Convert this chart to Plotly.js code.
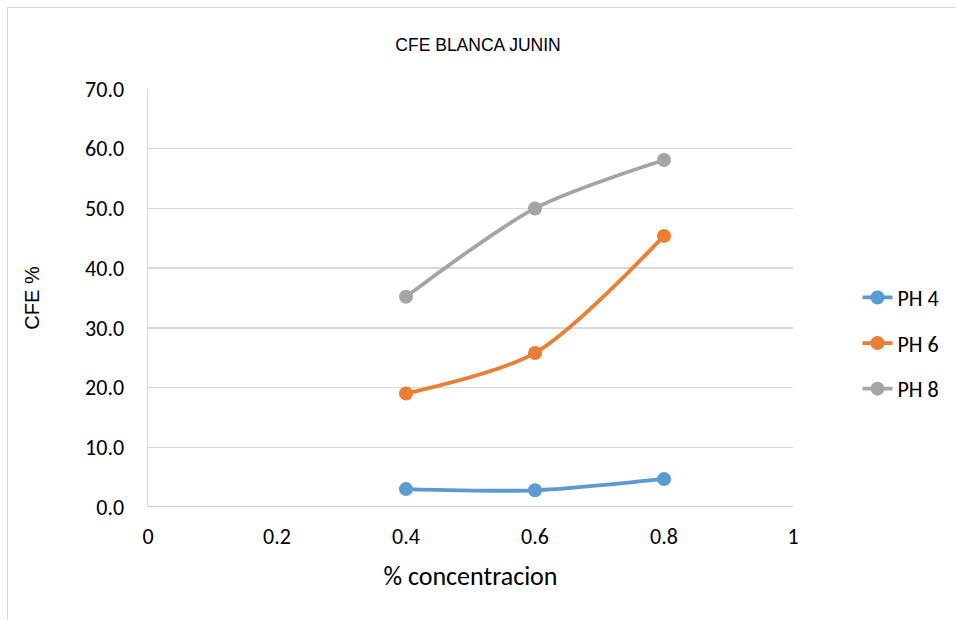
<!DOCTYPE html>
<html>
<head>
<meta charset="utf-8">
<script src="https://cdn.plot.ly/plotly-3.0.1.min.js"></script>
<style>
html,body{margin:0;padding:0;background:#fff;overflow:hidden;width:956px;height:620px;}
#frame{position:absolute;left:7px;top:7px;width:1000px;height:700px;border:1px solid #d9d9d9;box-sizing:border-box;}
#chart{position:absolute;left:0;top:0;width:956px;height:620px;}
</style>
</head>
<body>
<div id="frame"></div>
<div id="chart"></div>
<script>
const concentration = [0.4, 0.6, 0.8];
const ph4 = [3.0, 2.8, 4.7];
const ph6 = [19.0, 25.8, 45.4];
const ph8 = [35.2, 50.0, 58.1];
const seriesNames = ["PH 4", "PH 6", "PH 8"];
const colors = ["#5b9bd5", "#ed7d31", "#a5a5a5"];
const titleFont = "'Liberation Sans Narrow', 'Arial Narrow', 'Liberation Sans', Arial, sans-serif";
const bodyFont = "Calibri, Carlito, Lato, 'Open Sans', sans-serif";
const ytitleFont = "'Liberation Sans', Arial, sans-serif";

const series = [ph4, ph6, ph8];
const traces = series.map((ys, i) => ({
  x: concentration,
  y: ys,
  name: seriesNames[i],
  legendgroup: 'g' + i,
  type: 'scatter',
  mode: 'lines+markers',
  line: {color: colors[i], width: 3.8, shape: 'spline', smoothing: 0.8},
  marker: {color: colors[i], size: 14}
}));

const layout = {
  width: 956, height: 620,
  paper_bgcolor: 'rgba(0,0,0,0)',
  plot_bgcolor: 'rgba(0,0,0,0)',
  margin: {l: 148, r: 163, t: 89, b: 113},
  title: {text: 'CFE BLANCA JUNIN', x: 0.5, xanchor: 'center', y: 0.927, yanchor: 'middle',
          font: {family: titleFont, size: 17.5, color: '#000'}},
  xaxis: {
    range: [0, 1], dtick: 0.2, tick0: 0,
    showgrid: false, zeroline: false,
    showline: false,
    ticks: '', ticklabelstandoff: 14,
    tickfont: {family: bodyFont, size: 22, color: '#000'},
    title: {text: '% concentracion', font: {family: bodyFont, size: 26, color: '#000'}, standoff: 17}
  },
  yaxis: {
    range: [0, 70], dtick: 10, tickformat: '.1f',
    showgrid: true, gridcolor: '#d9d9d9', gridwidth: 1.5,
    zeroline: false, showline: true, linecolor: '#d9d9d9', linewidth: 1.5,
    ticks: '', ticklabelstandoff: 18,
    tickfont: {family: bodyFont, size: 22, color: '#000'},
    title: {text: 'CFE %', font: {family: ytitleFont, size: 20, color: '#000'}, standoff: 40}
  },
  shapes: [{type: 'line', xref: 'paper', yref: 'y', x0: 0, x1: 1, y0: 0, y1: 0,
            line: {color: '#bfbfbf', width: 1.5}}],
  legend: {
    x: 1.1, xanchor: 'left', y: 0.392, yanchor: 'middle',
    font: {family: bodyFont, size: 22, color: '#000'},
    traceorder: 'grouped', tracegroupgap: 14,
    bgcolor: 'rgba(0,0,0,0)'
  },
  showlegend: true
};

Plotly.newPlot('chart', traces, layout, {displayModeBar: false, staticPlot: true});
</script>
</body>
</html>
